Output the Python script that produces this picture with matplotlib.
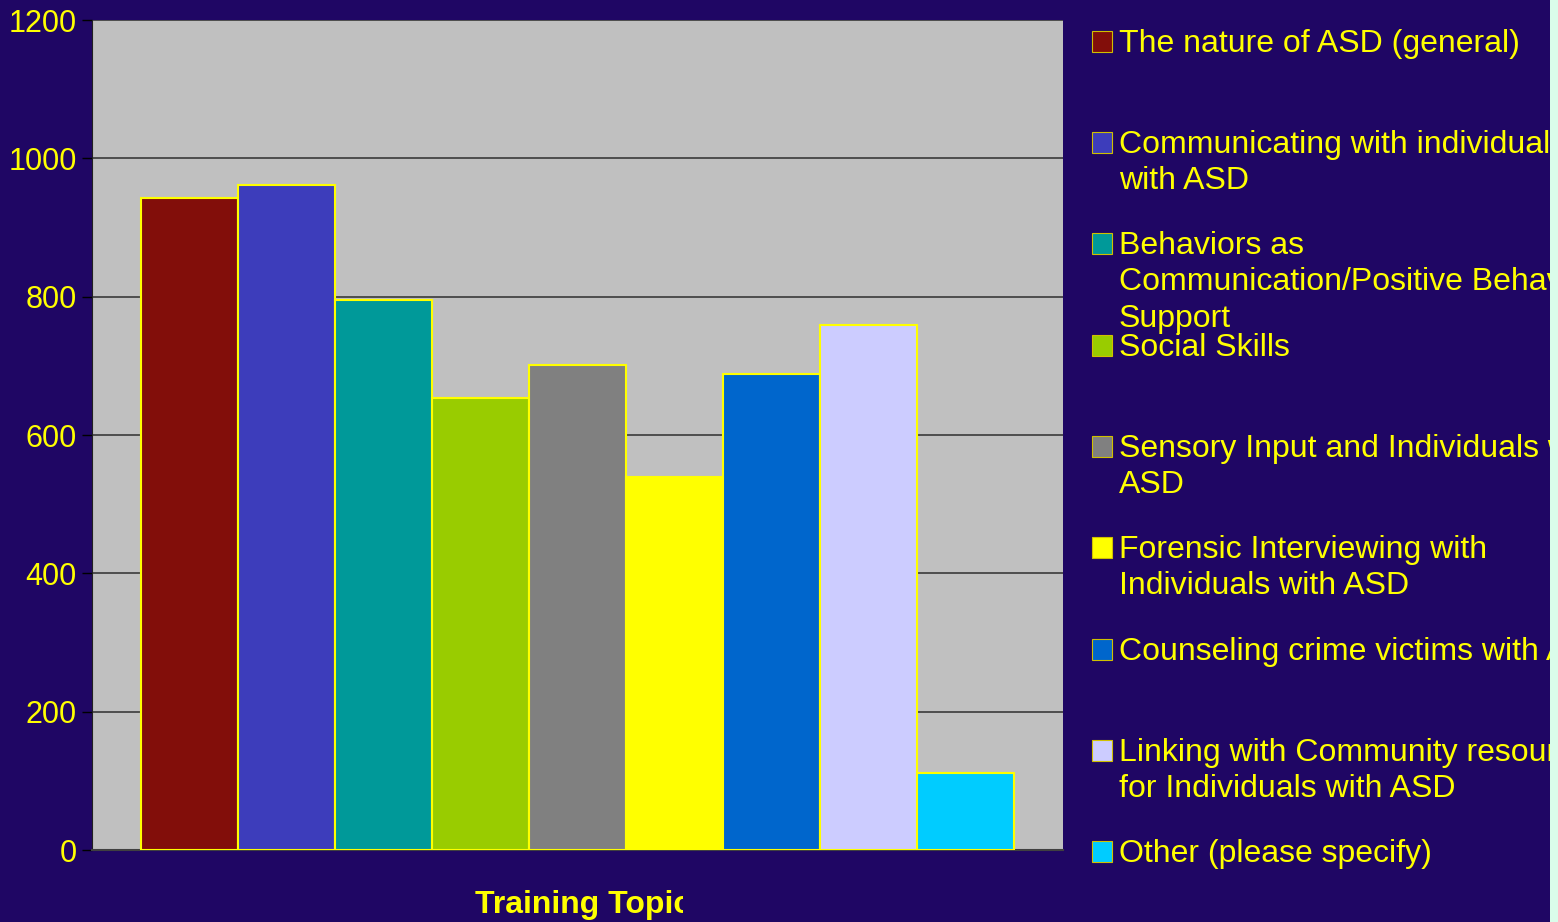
import numpy as np
import matplotlib.pyplot as plt
from matplotlib.patches import Rectangle
from matplotlib.transforms import Bbox

topics = [
    "The nature of ASD (general)",
    "Communicating with individuals\nwith ASD",
    "Behaviors as\nCommunication/Positive Behavior\nSupport",
    "Social Skills",
    "Sensory Input and Individuals with\nASD",
    "Forensic Interviewing with\nIndividuals with ASD",
    "Counseling crime victims with ASD",
    "Linking with Community resources\nfor Individuals with ASD",
    "Other (please specify)",
]
counts = [943, 961, 795, 653, 701, 539, 688, 759, 111]
colors = ["#820E0A", "#3D3DBB", "#009999", "#99CC00", "#808080",
          "#FFFF00", "#0066CC", "#CCCCFF", "#00CCFF"]
yticks = [0, 200, 400, 600, 800, 1000, 1200]

bg = "#1F0664"
W, H = 1558, 922
fig = plt.figure(figsize=(W / 100, H / 100), dpi=100, facecolor=bg)
plt.rcParams['font.family'] = ['Liberation Sans', 'DejaVu Sans']

ax = fig.add_axes([92 / W, (H - 850) / H, 971 / W, 830 / H])
ax.set_facecolor("#C0C0C0")
x = np.arange(len(counts))
ax.bar(x, counts, width=1.0, color=colors, edgecolor="#FFFF00", linewidth=1.5, zorder=3)
ax.set_xlim(-1, 9)
ax.set_ylim(0, 1200)
ax.set_yticks(yticks)
ax.set_yticklabels([str(v) for v in yticks], color="#FFFF00", fontsize=22)
ax.tick_params(axis="y", length=7, width=1, color="black", pad=4)
ax.set_xticks([])
ax.yaxis.grid(True, color="#3a3a3a", linewidth=1.2, zorder=0)
ax.set_axisbelow(True)
for s in ["top", "right"]:
    ax.spines[s].set_visible(False)
ax.spines["left"].set_color("#202020")
ax.spines["bottom"].set_color("#404040")
ax.spines["bottom"].set_linewidth(1.5)

# x label, cut off on the right as in the original
t = fig.text(583 / W, (H - 905) / H, "Training Topic", color="#FFFF00", fontsize=23,
             fontweight="bold", ha="center", va="center")
t.set_clip_box(Bbox([[0, 0], [683, H]]))
t.set_clip_on(True)

# legend drawn by hand, one text per line
for i, (lab, c) in enumerate(zip(topics, colors)):
    base = 52 + i * 101.25
    fig.patches.append(Rectangle((1092 / W, (H - base) / H), 20 / W, 21 / H,
                                 transform=fig.transFigure, facecolor=c,
                                 edgecolor="#D0C000", linewidth=0.8))
    for j, line in enumerate(lab.split("\n")):
        fig.text(1119 / W, (H - base - j * 36) / H, line, color="#FFFF00",
                 fontsize=23, ha="left", va="baseline")

fig.patches.append(Rectangle((1550 / W, 0), 8 / W, 1, transform=fig.transFigure,
                             facecolor="#DAFCEA", edgecolor="none", zorder=10))

fig.savefig("out.png", dpi=100, facecolor=bg)
